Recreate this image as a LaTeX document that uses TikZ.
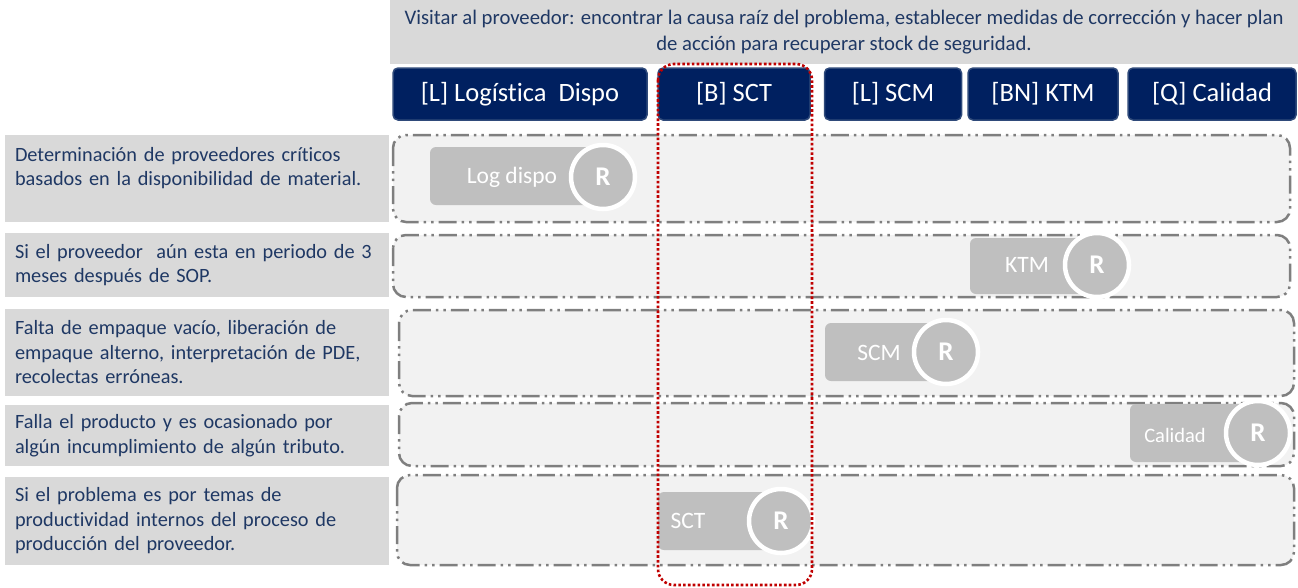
\documentclass[tikz,border=0pt]{standalone}
\usepackage{fontspec}
\setmainfont{Carlito}[Ligatures=NoCommon]
\usepackage{tikz}
\usetikzlibrary{positioning}
\definecolor{navy}{HTML}{002060}
\definecolor{navyedge}{HTML}{2F4A7A}
\definecolor{txtblue}{HTML}{1F3864}
\definecolor{lblgray}{HTML}{D9D9D9}
\definecolor{bandgray}{HTML}{F2F2F2}
\definecolor{pillgray}{HTML}{BFBFBF}
\definecolor{edgegray}{HTML}{7F7F7F}
\definecolor{darkred}{HTML}{C00000}

\tikzset{
  hdr/.style={draw=navyedge, fill=navy, rounded corners=5pt, line width=1.5pt, text=white,
    font=\fontsize{26.5}{30}\selectfont, minimum height=52pt, inner sep=0pt},
  cause/.style={fill=lblgray, text=txtblue, align=left, font=\fontsize{20.3}{24.5}\selectfont,
    minimum width=384pt, text width=364pt, inner sep=0pt},
  band/.style={draw=edgegray, fill=bandgray, rounded corners=13pt, line width=2.5pt,
    dash pattern=on 18pt off 5pt on 2.5pt off 5pt on 2.5pt off 5pt},
  pill/.style={fill=pillgray, rounded corners=6pt, minimum height=58pt, inner sep=0pt},
  plabel/.style={text=white, font=\fontsize{23.5}{26}\selectfont, inner sep=0pt},
  resp/.style={circle, fill=pillgray, draw=white, line width=4.5pt, minimum size=64pt,
    text=white, font=\bfseries\fontsize{27}{29}\selectfont, inner sep=0pt},
}

\begin{document}
\begin{tikzpicture}[x=1pt, y=-1pt]
\useasboundingbox (0,0) rectangle (1298,587);

% top instruction
\node [fill=lblgray, text=txtblue, align=center, font=\fontsize{20.7}{26}\selectfont,
  minimum width=908pt, minimum height=64pt, inner sep=0pt] (visit) at (844,32)
  {Visitar al proveedor: encontrar la causa raíz del problema, establecer medidas de corrección y hacer plan\\de acción para recuperar stock de seguridad.};

% responsible areas
\node [hdr, minimum width=254pt] (hlog) at (520,94) {[L] Logística\ \ Dispo};
\node [hdr, minimum width=152pt] (hsct) at (734,94) {[B] SCT};
\node [hdr, minimum width=137pt] (hscm) at (893,94) {[L] SCM};
\node [hdr, minimum width=150pt] (hktm) at (1043,94) {[BN] KTM};
\node [hdr, minimum width=168pt] (hcal) at (1212,94) {[Q] Calidad};

% causes
\node [cause, minimum height=87pt] (c1) at (197,178.5) {Determinación de proveedores críticos\\basados en la disponibilidad de material.\\\mbox{}};
\node [cause, minimum height=64pt] (c2) at (197,265) {Si el proveedor\ \ aún esta en periodo de 3\\meses después de SOP.};
\node [cause, minimum height=87pt] (c3) at (197,352.5) {Falta de empaque vacío, liberación de\\empaque alterno, interpretación de PDE,\\recolectas erróneas.};
\node [cause, minimum height=61pt] (c4) at (197,435.5) {Falla el producto y es ocasionado por\\algún incumplimiento de algún tributo.};
\node [cause, minimum height=88pt] (c5) at (197,521) {Si el problema es por temas de\\productividad internos del proceso de\\producción del proveedor.};

% rows
\draw [band] (393,135) rectangle (1290,222);
\draw [band] (393,235) rectangle (1290,297);
\draw [band] (399,310) rectangle (1294,396);
\draw [band] (399,403) rectangle (1294,466);
\draw [band] (397,475) rectangle (1294,565);

% assignments
\node [pill, minimum width=180pt] (p1) at (520,176) {};
\node [plabel] (t1) at (512,177) {Log dispo};
\node [resp] (r1) at (603,177) {R};

\node [pill, minimum width=120pt, minimum height=56pt] (p2) at (1030,266) {};
\node [plabel] (t2) at (1027,265) {KTM};
\node [resp] (r2) at (1097,265) {R};

\node [pill, minimum width=120pt] (p3) at (885,352) {};
\node [plabel] (t3) at (879,353) {SCM};
\node [resp] (r3) at (946,352) {R};

\node [pill, minimum width=130pt] (p4) at (1195,433) {};
\node [plabel, font=\fontsize{20.5}{22}\selectfont] (t4) at (1175,435) {Calidad};
\node [resp] (r4) at (1258,433) {R};

\node [pill, minimum width=132pt] (p5) at (724,521) {};
\node [plabel] (t5) at (688,521) {SCT};
\node [resp] (r5) at (781,521) {R};

% focus on SCT
\draw [darkred, line width=2.6pt, dash pattern=on 2.6pt off 2.2pt, rounded corners=16pt]
  (658,64) rectangle (812,585);
\end{tikzpicture}
\end{document}
